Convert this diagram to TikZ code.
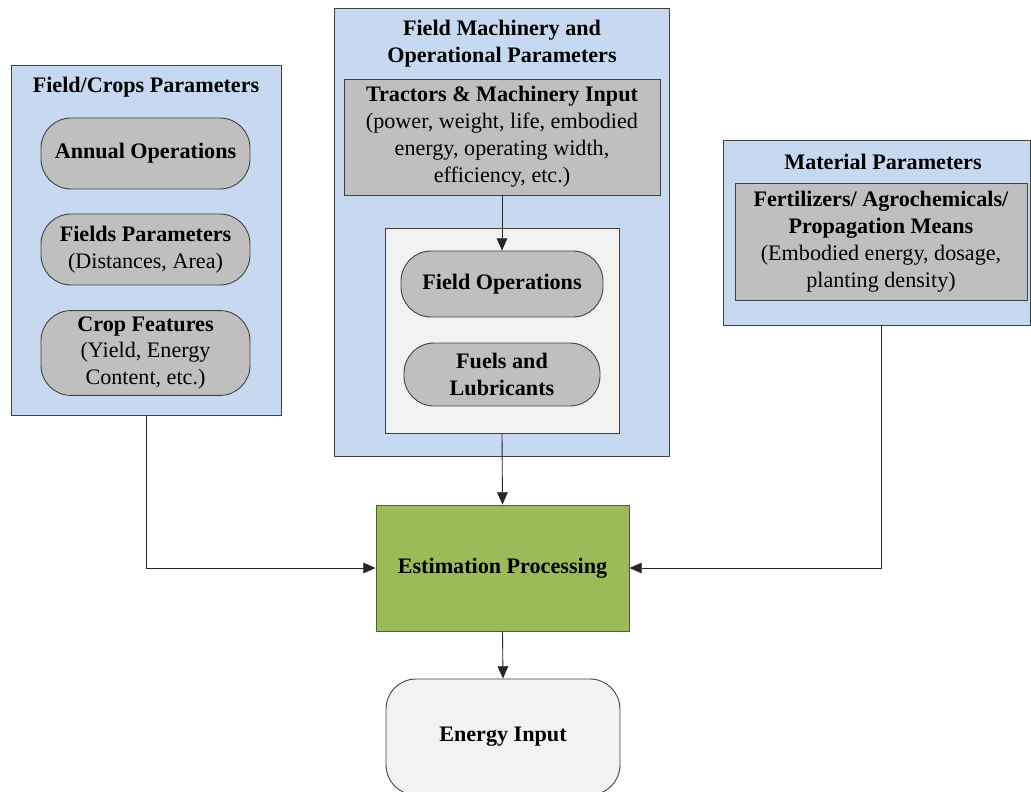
\documentclass[tikz,border=0pt]{standalone}
\usepackage{fontspec}
\setmainfont{Liberation Serif}
\usepackage{xcolor}
\usepackage{tikz}
\usetikzlibrary{arrows.meta, positioning, calc}
\definecolor{boxblue}{HTML}{C6D9F1}
\definecolor{boxgray}{HTML}{BFBFBF}
\definecolor{boxlight}{HTML}{F2F2F2}
\definecolor{boxgreen}{HTML}{9BBB59}
\definecolor{edgegreen}{HTML}{4F6228}
\newcommand{\bodyfont}{\fontsize{12.6}{15.3}\selectfont}
\tikzset{
  group/.style={draw=black!75, fill=boxblue, line width=0.5pt},
  pill/.style={draw=black!75, fill=boxgray, rounded corners=0.6cm, align=center, line width=0.5pt},
  card/.style={draw=black!75, fill=boxgray, align=center, line width=0.5pt},
  title/.style={align=center, font=\bodyfont\bfseries},
  link/.style={draw=black!85, line width=0.5pt, -{Triangle[length=7pt,width=6pt]}}
}

\begin{document}
\begin{tikzpicture}[x=0.02cm, y=-0.02cm, font=\bodyfont]
\useasboundingbox (0,0) rectangle (1031,791);
% left group
\node[group, minimum width=5.4cm, minimum height=7cm] (crops) at (146,240) {};
\node[title] (cropsT) at (146,87) {Field/Crops Parameters};
\node[pill, minimum width=4.18cm, minimum height=1.42cm] (annual) at (145.5,153.5) {\textbf{Annual Operations}};
\node[pill, minimum width=4.18cm, minimum height=1.42cm] (fields) at (145.5,249.5) {\textbf{Fields Parameters}\\(Distances, Area)};
\node[pill, minimum width=4.18cm, minimum height=1.64cm] (cropf) at (145.5,353) {\textbf{Crop Features}\\(Yield, Energy\\Content, etc.)};
% middle group
\node[group, minimum width=6.7cm, minimum height=8.96cm] (mach) at (501.5,232) {};
\node[title] (machT) at (502,44) {Field Machinery and\\Operational Parameters};
\node[card, minimum width=6.32cm, minimum height=2.32cm] (tract) at (502,137) {\textbf{Tractors \& Machinery Input}\\(power, weight, life, embodied\\energy, operating width,\\efficiency, etc.)};
\node[draw=black!75, fill=boxlight, line width=0.5pt, minimum width=4.68cm, minimum height=4.1cm] (inner) at (502,330.5) {};
\node[pill, minimum width=4.04cm, minimum height=1.32cm] (fieldops) at (502,284) {\textbf{Field Operations}};
\node[pill, minimum width=3.92cm, minimum height=1.26cm] (fuels) at (502,374.5) {\textbf{Fuels and}\\\textbf{Lubricants}};
% right group
\node[group, minimum width=6.14cm, minimum height=3.7cm] (mat) at (876.5,232.5) {};
\node[title] (matT) at (883,162) {Material Parameters};
\node[card, minimum width=5.84cm, minimum height=2.34cm] (fert) at (881,241.5) {\textbf{Fertilizers/ Agrochemicals/}\\\textbf{Propagation Means}\\(Embodied energy, dosage,\\planting density)};
% processing and output
\node[draw=edgegreen, fill=boxgreen, line width=0.5pt, minimum width=5.06cm, minimum height=2.52cm, font=\bodyfont\bfseries] (est) at (502.5,568) {Estimation Processing};
\node[draw=black!75, fill=boxlight, rounded corners=0.6cm, line width=0.5pt, minimum width=4.68cm, minimum height=2.32cm, font=\bodyfont\bfseries] (energy) at (503,737) {Energy Input};
% connectors
\draw[link] (tract.south) -- (fieldops.north);
\draw[link] (inner.south) -- (est.north);
\draw[link] (crops.south) |- (est.west);
\draw[link] (fert |- mat.south) |- (est.east);
\draw[link] (est.south) -- (energy.north);
\end{tikzpicture}
\end{document}
